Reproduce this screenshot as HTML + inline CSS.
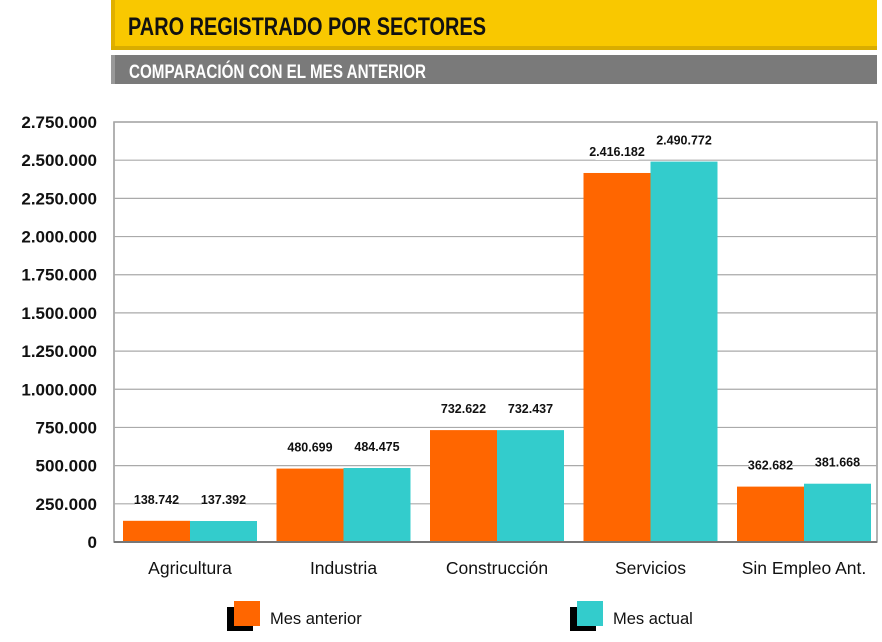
<!DOCTYPE html>
<html><head><meta charset="utf-8"><style>
body{margin:0;width:882px;height:637px;background:#fff;overflow:hidden;font-family:"Liberation Sans",sans-serif}
</style></head><body>
<svg width="882" height="637">
<rect x="111" y="0" width="766" height="50" fill="#f9c800"/>
<rect x="111" y="0" width="4" height="50" fill="#e0b000"/>
<rect x="111" y="46" width="766" height="4" fill="#d9ad00"/>
<text x="128" y="35" font-size="25" font-weight="bold" fill="#111" textLength="358" lengthAdjust="spacingAndGlyphs">PARO REGISTRADO POR SECTORES</text>
<rect x="111" y="55" width="766" height="29" fill="#7a7a7a"/>
<rect x="111" y="55" width="4" height="29" fill="#999"/>
<text x="129" y="78" font-size="19" font-weight="bold" fill="#fff" textLength="297" lengthAdjust="spacingAndGlyphs">COMPARACIÓN CON EL MES ANTERIOR</text>
<g id="plot"></g>
</svg>
<script>
const categories=["Agricultura","Industria","Construcción","Servicios","Sin Empleo Ant."];
const prevMonth=[138742,480699,732622,2416182,362682];
const currMonth=[137392,484475,732437,2490772,381668];
const ticks=[0,250000,500000,750000,1000000,1250000,1500000,1750000,2000000,2250000,2500000,2750000];
const L=114,R=877,T=122,B=542,MAX=2750000;
const y=v=>B-(v/MAX)*(B-T);
const gw=153.5;
const fmt=v=>v.toString().replace(/\B(?=(\d{3})+(?!\d))/g,".");
const g=document.getElementById('plot');const NS="http://www.w3.org/2000/svg";
function mk(t,a,txt){const e=document.createElementNS(NS,t);for(const k in a)e.setAttribute(k,a[k]);if(txt!==undefined)e.textContent=txt;g.appendChild(e);return e;}
let e=mk('rect',{x:L,y:T,width:R-L,height:B-T,fill:'#fff',stroke:'#999','stroke-width':1.5});


ticks.forEach(t=>{
 if(t>0){e=mk('line',{x1:L,x2:R,y1:y(t),y2:y(t),stroke:'#aaa','stroke-width':1.2});
 
 }
 e=mk('text',{x:97,y:y(t)+6,'font-size':17,'font-weight':'bold','text-anchor':'end',fill:'#111'},fmt(t));
 
 
});
categories.forEach((c,i)=>{
 const x0=123+i*gw,bw=67;
 [[prevMonth[i],'#ff6600',x0],[currMonth[i],'#33cccc',x0+bw]].forEach(([v,col,x],j)=>{
  e=mk('rect',{x:x,y:y(v),width:bw,height:B-y(v),fill:col});
  
  
  const ly=y(v)-17;
  mk('rect',{x:x+12,y:ly-12,width:bw-24,height:16,fill:'#fff'});
  e=mk('text',{x:x+bw/2,y:ly,'font-size':12.5,'font-weight':'bold','text-anchor':'middle',fill:'#111'},fmt(v));
  
  
 });
 e=mk('text',{x:x0+bw,y:574,'font-size':17.5,'text-anchor':'middle',fill:'#111'},c);
 
 
});
mk('line',{x1:L,x2:R,y1:B,y2:B,stroke:'#777','stroke-width':2});
[['Mes anterior','#ff6600',234],['Mes actual','#33cccc',577]].forEach(([n,col,x])=>{
 mk('rect',{x:x-7,y:607,width:26,height:24,fill:'#000'});
 e=mk('rect',{x:x,y:601,width:26,height:25,fill:col});
 
 
 e=mk('text',{x:x+36,y:624,'font-size':16.5,fill:'#111'},n);
 
 
});
</script>
</body></html>
